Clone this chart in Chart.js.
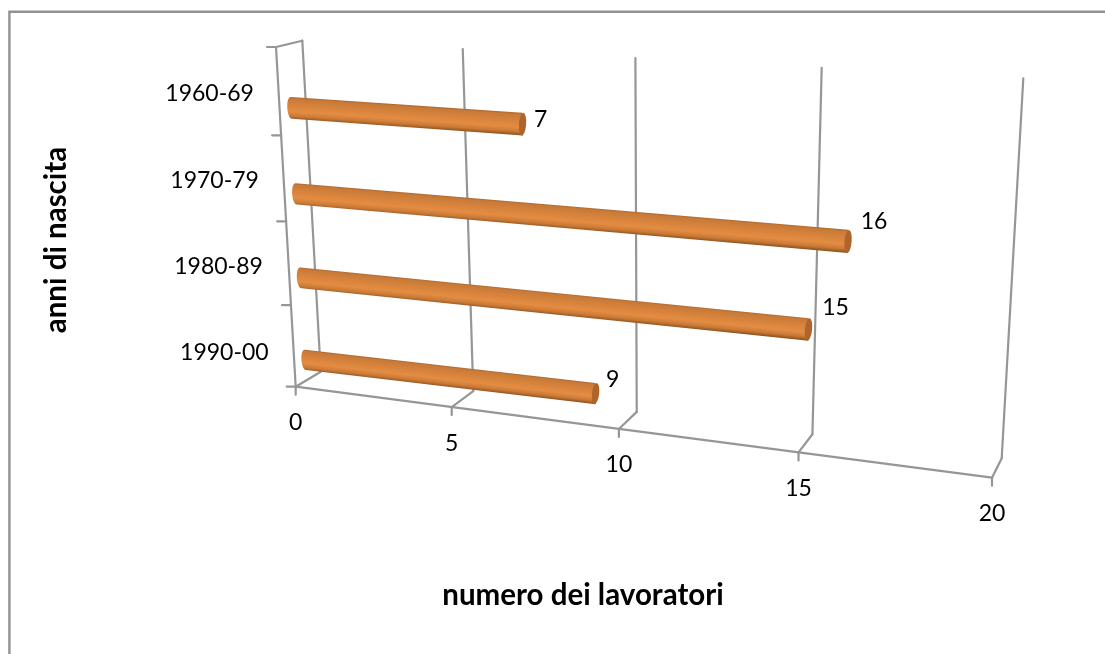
<!DOCTYPE html>
<html>
<head>
<meta charset="utf-8">
<title>anni di nascita</title>
<style>
  html, body { margin: 0; padding: 0; background: #fff; }
  canvas { display: block; }
</style>
<script src="https://cdn.jsdelivr.net/npm/chart.js@4"></script>
</head>
<body>
<canvas id="chart" width="1105" height="654"></canvas>
<script>
const categories = ['1960-69', '1970-79', '1980-89', '1990-00'];
const workers = [7, 16, 15, 9];
const xTicks = [0, 5, 10, 15, 20];
const xTitle = 'numero dei lavoratori';
const yTitle = 'anni di nascita';

// the picture is a tilted 3D view: each plane is a quad [top-left, top-right, bottom-right, bottom-left]
const BACK_WALL = [[302.3, 40.7], [1023.3, 78.3], [1001.7, 458.3], [320.7, 371.7]];
const FRONT_WALL = [[276, 47], [1013, 88], [992, 477.7], [295.7, 386.7]];
const BAR_PLANE = [[289, 64], [1011, 109], [993, 485], [307.8, 400]];
const VALUE_LABEL_OFFSET = [[18, -5], [26, -20], [27, -22], [17, -14]];
const CATEGORY_LABEL_OFFSET = [[-69, 2], [-69, 2], [-70, 3], [-69, 6]];

const GREY = '#969696';
const FONT = 'Lato, Carlito, "Noto Sans", sans-serif';

function homography(q) {
    const [[x0, y0], [x1, y1], [x2, y2], [x3, y3]] = q;
    const dx1 = x1 - x2, dx2 = x3 - x2, sx = x0 - x1 + x2 - x3;
    const dy1 = y1 - y2, dy2 = y3 - y2, sy = y0 - y1 + y2 - y3;
    const den = dx1 * dy2 - dx2 * dy1;
    const g = (sx * dy2 - dx2 * sy) / den;
    const h = (dx1 * sy - sx * dy1) / den;
    const a = x1 - x0 + g * x1, b = x3 - x0 + h * x3;
    const d = y1 - y0 + g * y1, e = y3 - y0 + h * y3;
    return (u, v) => {
        const w = g * u + h * v + 1;
        return [(a * u + b * v + x0) / w, (d * u + e * v + y0) / w];
    };
}

const back = homography(BACK_WALL);
const front = homography(FRONT_WALL);
const barPlane = homography(BAR_PLANE);

function line(ctx, p, q) {
    ctx.beginPath();
    ctx.moveTo(p[0], p[1]);
    ctx.lineTo(q[0], q[1]);
    ctx.stroke();
}

const tiltedView = {
    id: 'tiltedView',

    beforeDatasetsDraw(chart) {
        const { ctx, chartArea: area, scales: { x, y } } = chart;
        const uOf = px => (px - area.left) / area.width;
        const vOf = py => (py - area.top) / area.height;
        ctx.save();

        // outer frame, only top and left are in the picture
        ctx.strokeStyle = '#929292';
        ctx.lineWidth = 2.4;
        ctx.beginPath();
        ctx.moveTo(9.4, 654);
        ctx.lineTo(9.4, 11.8);
        ctx.lineTo(1105, 11.8);
        ctx.stroke();

        ctx.strokeStyle = GREY;
        ctx.lineWidth = 2.2;
        ctx.lineCap = 'round';
        line(ctx, front(0, 0), back(0, 0));
        line(ctx, front(0, 0), front(0, 1));
        line(ctx, front(0, 1), front(1, 1));

        x.ticks.forEach((t, i) => {
            const u = uOf(x.getPixelForTick(i));
            const f = front(u, 1), b = back(u, 1);
            line(ctx, f, b);
            line(ctx, b, back(u, 0));
            line(ctx, f, [f[0], f[1] + 8]);
        });

        for (let i = 0; i <= categories.length; i++) {
            const p = front(0, vOf(y.getPixelForValue(i - 0.5)));
            line(ctx, p, [p[0] - 9, p[1]]);
        }

        ctx.fillStyle = '#000';
        ctx.font = '23px ' + FONT;
        ctx.textAlign = 'center';
        ctx.textBaseline = 'middle';
        x.ticks.forEach((t, i) => {
            const f = front(uOf(x.getPixelForTick(i)), 1);
            ctx.fillText(t.label, f[0], f[1] + 36);
        });
        categories.forEach((c, i) => {
            const p = front(0, vOf(y.getPixelForValue(i)));
            ctx.fillText(y.getLabelForValue(i), p[0] + CATEGORY_LABEL_OFFSET[i][0], p[1] + CATEGORY_LABEL_OFFSET[i][1]);
        });
        ctx.restore();
    },

    // replaces the flat bars with tubes, the geometry still comes from the bar elements
    beforeDatasetDraw(chart, args) {
        const { ctx, chartArea: area } = chart;
        const P = (px, py) => barPlane((px - area.left) / area.width, (py - area.top) / area.height);
        const meta = chart.getDatasetMeta(args.index);

        meta.data.forEach(bar => {
            const half = bar.height / 2;
            const A = P(bar.base, bar.y - half), B = P(bar.x, bar.y - half);
            const C = P(bar.x, bar.y + half), D = P(bar.base, bar.y + half);
            const len = Math.hypot(B[0] - A[0], B[1] - A[1]);
            const dx = (B[0] - A[0]) / len, dy = (B[1] - A[1]) / len;

            // shading has to run straight across the tube
            const mx = (A[0] + B[0] + C[0] + D[0]) / 4, my = (A[1] + B[1] + C[1] + D[1]) / 4;
            const r = Math.hypot(C[0] - B[0], C[1] - B[1]) / 2;
            const grad = ctx.createLinearGradient(mx + dy * r, my - dx * r, mx - dy * r, my + dx * r);
            grad.addColorStop(0, '#a9642c');
            grad.addColorStop(0.1, '#c87a38');
            grad.addColorStop(0.35, '#d6823c');
            grad.addColorStop(0.65, '#e48c42');
            grad.addColorStop(0.85, '#c97a36');
            grad.addColorStop(1, '#91541f');

            ctx.save();
            ctx.fillStyle = grad;
            ctx.beginPath();
            ctx.moveTo(A[0], A[1]);
            ctx.lineTo(B[0], B[1]);
            ctx.lineTo(C[0], C[1]);
            ctx.lineTo(D[0], D[1]);
            ctx.bezierCurveTo(D[0] - dx * 5.5, D[1] - dy * 5.5, A[0] - dx * 5.5, A[1] - dy * 5.5, A[0], A[1]);
            ctx.fill();

            const cx = (B[0] + C[0]) / 2, cy = (B[1] + C[1]) / 2;
            ctx.fillStyle = '#ad652c';
            ctx.beginPath();
            ctx.ellipse(cx, cy, 3.6, r, Math.atan2(dy, dx), 0, Math.PI * 2);
            ctx.fill();
            ctx.restore();
        });
        return false;
    },

    afterDatasetsDraw(chart) {
        const { ctx, chartArea: area } = chart;
        const meta = chart.getDatasetMeta(0);
        ctx.save();
        ctx.fillStyle = '#000';
        ctx.font = '23px ' + FONT;
        ctx.textAlign = 'center';
        ctx.textBaseline = 'middle';
        meta.data.forEach((bar, i) => {
            const p = barPlane((bar.x - area.left) / area.width, (bar.y - area.top) / area.height);
            ctx.fillText(String(workers[i]), p[0] + VALUE_LABEL_OFFSET[i][0], p[1] + VALUE_LABEL_OFFSET[i][1]);
        });
        ctx.restore();
    }
};

new Chart(document.getElementById('chart'), {
    type: 'bar',
    data: {
        labels: categories,
        datasets: [{ data: workers, backgroundColor: '#e08a42', barPercentage: 0.25, categoryPercentage: 1 }]
    },
    options: {
        indexAxis: 'y',
        responsive: false,
        animation: false,
        layout: { padding: { left: 38.3, right: 39, top: 60, bottom: 41.3 } },
        plugins: { legend: { display: false }, tooltip: { enabled: false } },
        scales: {
            x: {
                min: xTicks[0],
                max: xTicks[xTicks.length - 1],
                afterBuildTicks: scale => { scale.ticks = xTicks.map(v => ({ value: v })); },
                grid: { display: false, drawTicks: false },
                border: { display: false },
                ticks: { display: false },
                title: {
                    display: true,
                    text: xTitle,
                    color: '#000',
                    font: { family: FONT, size: 29.5, weight: 'bold', lineHeight: 1.2 },
                    padding: { top: 157.3, bottom: 0 }
                }
            },
            y: {
                grid: { display: false, drawTicks: false },
                border: { display: false },
                ticks: { display: false },
                title: {
                    display: true,
                    text: yTitle,
                    color: '#000',
                    font: { family: FONT, size: 29.5, weight: 'bold', lineHeight: 1.2 },
                    padding: { top: 0, bottom: 26.3 }
                }
            }
        }
    },
    plugins: [tiltedView]
});
</script>
</body>
</html>
